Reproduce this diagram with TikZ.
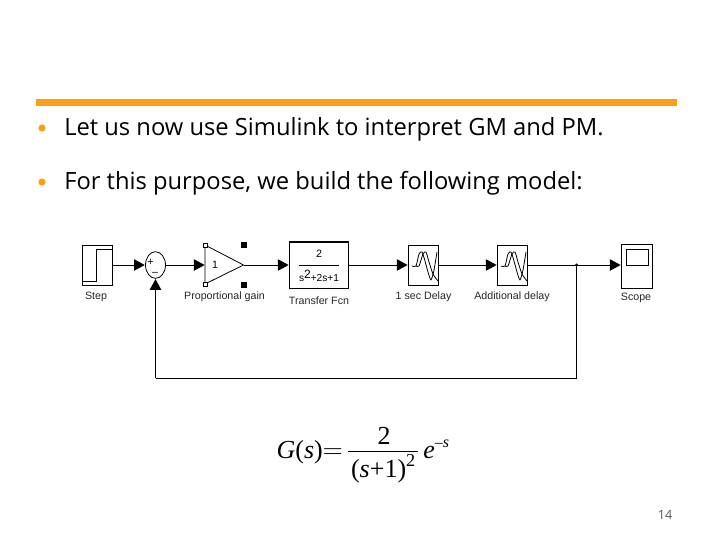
\documentclass[tikz,border=0pt]{standalone}
\usepackage{amsmath}
\usepackage{fontspec}
\setmainfont{Open Sans}
\newfontfamily\blockfont{Liberation Sans}
\newfontfamily\formulafont{Liberation Serif}
\usetikzlibrary{shapes.geometric, arrows.meta, positioning, calc}
\definecolor{barorange}{RGB}{250,160,20}
\newcommand{\fit}[1]{\text{\formulafont\itshape #1}}
\newcommand{\frm}[1]{\text{\formulafont #1}}
\tikzset{
  block/.style={draw,line width=0.6pt,inner sep=0pt,anchor=north west},
  blocklabel/.style={font=\blockfont\fontsize{8}{9}\selectfont,text=black!85,inner sep=0pt},
  signal/.style={line width=0.7pt,-{Triangle[length=8pt,width=8.5pt]},shorten >=0.3pt},
  wire/.style={line width=0.7pt},
  bullettext/.style={font=\fontsize{17.8}{20}\selectfont,anchor=base west,inner sep=0pt},
  formulapart/.style={font=\fontsize{19.5}{22}\selectfont,inner sep=0pt},
  handle/.style={fill=black,minimum size=3.8pt,inner sep=0pt},
  openhandle/.style={draw,fill=white,line width=0.5pt,minimum size=3pt,inner sep=0pt}
}
\begin{document}
\begin{tikzpicture}[x=0.75pt,y=-0.75pt]
  \useasboundingbox (0,0) rectangle (720,540);
  % Header bar and bullets
  \fill[barorange] (36,99) rectangle (677,106);
  \fill[barorange] (42,128) circle (3.6);
  \fill[barorange] (42,182) circle (3.6);
  \node[bullettext] (lineone) at (64,135) {Let us now use Simulink to interpret GM and PM.};
  \node[bullettext] (linetwo) at (64,189) {For this purpose, we build the following model:};

  % Blocks
  \node[block,minimum width=22.5pt,minimum height=30pt] (step) at (81.5,245) {};
  \node[draw,ellipse,line width=0.6pt,minimum width=15pt,minimum height=20pt,inner sep=0pt] (sum) at (155.5,265) {};
  \node[block,minimum width=44.5pt,minimum height=34.5pt] (tf) at (289,242) {};
  \node[block,minimum width=22.5pt,minimum height=30pt] (delayone) at (408,245) {};
  \node[block,minimum width=22.5pt,minimum height=30pt] (delaytwo) at (497,245) {};
  \node[block,minimum width=23pt,minimum height=33pt] (scope) at (621,244) {};
  \coordinate (gainin) at (205,265);
  \coordinate (gainout) at (243.5,265);
  \coordinate (branch) at (576.5,265);
  \coordinate (bottomright) at (576.5,378);
  \coordinate (bottomleft) at (155.5,378);

  % Step icon
  \draw[line width=0.6pt] (81.5,281) -- (96,281) -- (96,249) -- (112,249);

  % Sum signs
  \node[font=\blockfont\fontsize{8}{9}\selectfont,inner sep=0pt] (plus) at (150.5,262.5) {+};
  \node[font=\blockfont\fontsize{8}{9}\selectfont,inner sep=0pt] (minus) at (155,273.5) {–};

  % Gain triangle
  \draw[line width=0.6pt] (205,245) -- (gainout) -- (205,284) -- cycle;
  \node[font=\blockfont\fontsize{8}{9}\selectfont,inner sep=0pt] (gainvalue) at (215,265) {1};
  \node[openhandle] (hone) at (205,245) {};
  \node[openhandle] (htwo) at (205,284) {};
  \node[handle] (hthree) at (244,245) {};
  \node[handle] (hfour) at (244,285) {};

  % Transfer function text
  \draw[line width=1.4pt] (tf.north west) -- (tf.north east);
  \draw[line width=0.5pt] (299,265) -- (339,265);
  \node[font=\blockfont\fontsize{8}{9}\selectfont,inner sep=0pt] (tfnum) at (319,254) {2};
  \node[font=\blockfont\fontsize{7.6}{9}\selectfont,inner sep=0pt] (tfden) at (319,276) {s\raisebox{2.5pt}{\fontsize{9}{9}\selectfont 2}+2s+1};

  % Delay icons
  \foreach \dx in {408,497}{
    \begin{scope}[xshift=\dx*0.75pt]
      \draw[line width=0.6pt,line join=round] plot[smooth,tension=0.4] coordinates {(4,266) (8,266) (11,254) (14,252) (17,261) (20,272) (23,280) (26,270) (29,252)};
      \draw[line width=0.6pt,line join=round] plot[smooth,tension=0.4] coordinates {(8,266) (11,266) (15,254) (18,252) (21,262) (25,274) (30,281)};
    \end{scope}
  }

  % Scope screen
  \draw[line width=0.6pt] (626,249) rectangle (648,265);

  % Connectors
  \draw[signal] (step.east |- sum) -- (sum.west);
  \draw[signal] (sum.east) -- (gainin);
  \draw[signal] (gainout) -- (tf.west |- gainout);
  \draw[signal] (tf.east |- gainout) -- (delayone.west |- gainout);
  \draw[signal] (delayone.east |- gainout) -- (delaytwo.west |- gainout);
  \draw[signal] (delaytwo.east |- gainout) -- (scope.west |- gainout);
  \draw[wire] (branch) -- (bottomright) -- (bottomleft);
  \draw[signal] (bottomleft) -- (sum.south);
  \fill (branch) circle (1.7);

  % Labels
  \node[blocklabel] (steplabel) at (96,296.5) {Step};
  \node[blocklabel] (gainlabel) at (224.5,296.5) {Proportional gain};
  \node[blocklabel] (tflabel) at (319,300.5) {Transfer Fcn};
  \node[blocklabel] (delayonelabel) at (423.5,296.5) {1 sec Delay};
  \node[blocklabel] (delaytwolabel) at (512,296.5) {Additional delay};
  \node[blocklabel] (scopelabel) at (636,297.5) {Scope};

  % Formula
  \node[formulapart,anchor=base east] (formleft) at (343,458.5) {\thickmuskip=0mu$\fit{G}\frm{(}\fit{s}\frm{)}=$};
  \node[formulapart,anchor=base] (formnum) at (384,444) {\formulafont 2};
  \node[formulapart,anchor=base] (formden) at (383.5,477.5) {$\frm{(}\fit{s}\frm{+1)}^{\frm{2}}$};
  \draw[line width=0.9pt] (348,451.7) -- (418,451.7);
  \node[formulapart,anchor=base west] (formexp) at (423,458) {{\formulafont\itshape e}\raisebox{8pt}{\formulafont\fontsize{12}{14}\selectfont –\itshape s}};

  % Page number
  \node[font=\fontsize{9.5}{11}\selectfont,text=black!65,inner sep=0pt] (pagenum) at (665,515) {14};
\end{tikzpicture}
\end{document}
